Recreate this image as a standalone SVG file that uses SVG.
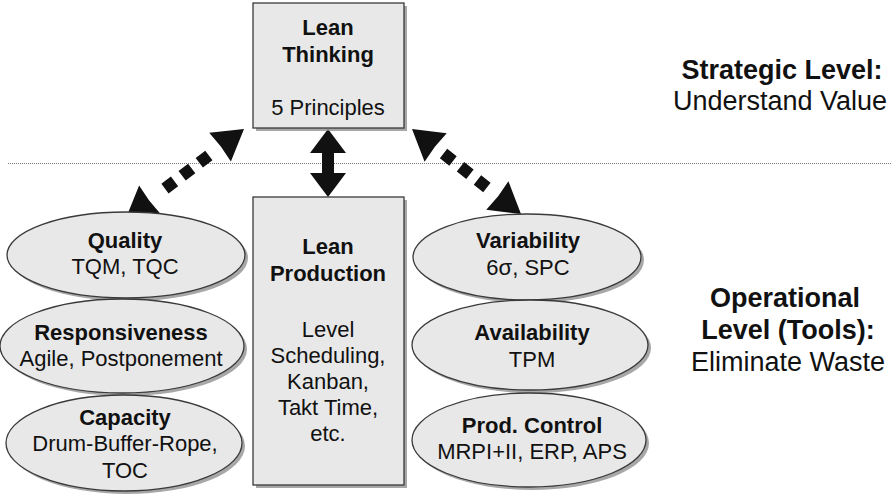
<svg xmlns="http://www.w3.org/2000/svg" width="891" height="497" viewBox="0 0 891 497">
<style>
.node{fill:#e8e8e8;stroke:#3a3a3a;stroke-width:1.3}
.sh{fill:#8a8a8a;opacity:0.75}
text{font-family:"Liberation Sans",Arial,sans-serif;font-size:22px;fill:#111;text-anchor:middle}
.b{font-weight:bold}
.lvl{font-size:27px}
.dash{stroke:#111;stroke-width:12;fill:none;marker-start:url(#head);marker-end:url(#head)}
.sep{stroke:#777;stroke-width:1;stroke-dasharray:1 1;fill:none}
</style>
<defs>
<marker id="head" viewBox="-34 -20 36 40" markerWidth="36" markerHeight="40" refX="0" refY="0" orient="auto-start-reverse" markerUnits="userSpaceOnUse">
<path d="M0,0 L-30,-18 L-29,0 L-30,18 z" fill="#111"/>
</marker>
</defs>

<line id="separator" class="sep" x1="8" y1="163.5" x2="891" y2="163.5"/>

<g id="connectors">
<path class="dash" d="M244,129 L126,218" stroke-dasharray="0 44 12 9.5 12 9.5 12 500"/>
<path class="dash" d="M412,129 L521,214" stroke-dasharray="0 40 12 9.5 12 9.5 12 500"/>
<polygon points="328,129 346,153 334,153 334,173 346,173 328,197 310,173 322,173 322,153 310,153" fill="#111"/>
</g>

<g id="lean-thinking">
<rect class="sh" x="256" y="6" width="151" height="125"/>
<rect class="node" x="253" y="3" width="151" height="125"/>
<text class="b" x="328" y="35">Lean</text>
<text class="b" x="328" y="62">Thinking</text>
<text x="328" y="115">5 Principles</text>
</g>

<g id="lean-production">
<rect class="sh" x="256" y="200" width="151" height="288"/>
<rect class="node" x="253" y="197" width="151" height="288"/>
<text class="b" x="328" y="254">Lean</text>
<text class="b" x="328" y="281">Production</text>
<text x="328" y="337">Level</text>
<text x="328" y="363">Scheduling,</text>
<text x="328" y="389">Kanban,</text>
<text x="328" y="415">Takt Time,</text>
<text x="328" y="441">etc.</text>
</g>

<g id="quality">
<ellipse class="sh" cx="129" cy="258" rx="119" ry="43"/>
<ellipse class="node" cx="126" cy="255" rx="119" ry="43"/>
<text class="b" x="125" y="248">Quality</text>
<text x="125" y="274">TQM, TQC</text>
</g>

<g id="responsiveness">
<ellipse class="sh" cx="125" cy="349" rx="122" ry="47"/>
<ellipse class="node" cx="122" cy="346" rx="122" ry="47"/>
<text class="b" x="121" y="340">Responsiveness</text>
<text x="121" y="366">Agile, Postponement</text>
</g>

<g id="capacity">
<ellipse class="sh" cx="127" cy="446" rx="118" ry="48"/>
<ellipse class="node" cx="124" cy="443" rx="118" ry="48"/>
<text class="b" x="125" y="425">Capacity</text>
<text x="125" y="451">Drum-Buffer-Rope,</text>
<text x="125" y="478">TOC</text>
</g>

<g id="variability">
<ellipse class="sh" cx="530" cy="260" rx="114" ry="43"/>
<ellipse class="node" cx="527" cy="257" rx="114" ry="43"/>
<text class="b" x="528" y="248">Variability</text>
<text x="528" y="275">6σ, SPC</text>
</g>

<g id="availability">
<ellipse class="sh" cx="533" cy="348" rx="118" ry="45"/>
<ellipse class="node" cx="530" cy="345" rx="118" ry="45"/>
<text class="b" x="532" y="340">Availability</text>
<text x="532" y="367">TPM</text>
</g>

<g id="prod-control">
<ellipse class="sh" cx="532" cy="443" rx="117" ry="47"/>
<ellipse class="node" cx="529" cy="440" rx="117" ry="47"/>
<text class="b" x="532" y="433">Prod. Control</text>
<text x="532" y="459">MRPI+II, ERP, APS</text>
</g>

<g id="levels">
<text class="b lvl" x="782" y="79">Strategic Level:</text>
<text class="lvl" x="780" y="110">Understand Value</text>
<text class="b lvl" x="785" y="307">Operational</text>
<text class="b lvl" x="788" y="339">Level (Tools):</text>
<text class="lvl" x="788" y="371">Eliminate Waste</text>
</g>
</svg>
